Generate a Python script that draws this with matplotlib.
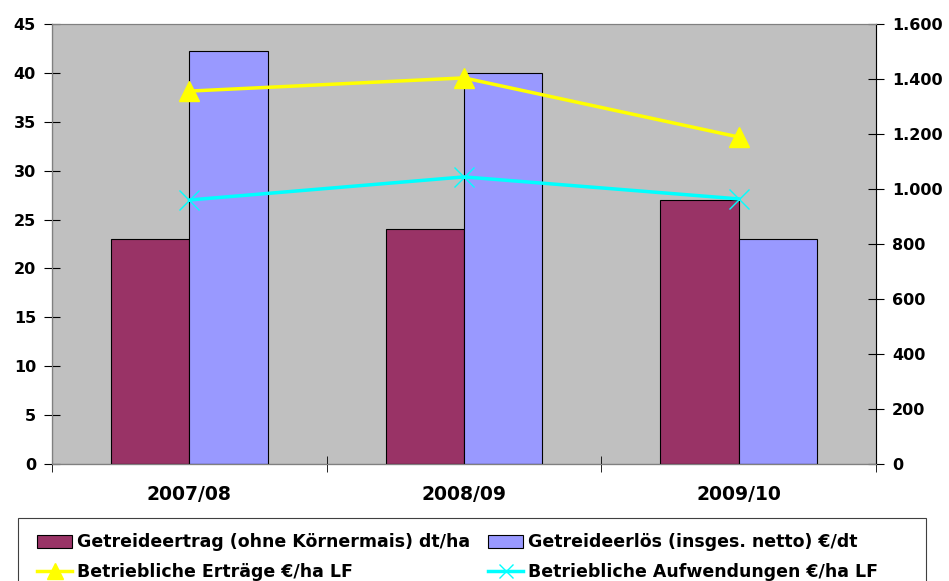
import matplotlib.pyplot as plt
from matplotlib.patches import Rectangle
import numpy as np

plt.rcParams['font.family'] = ['DejaVu Sans']
plt.rcParams['font.weight'] = 'bold'

jahre = ['2007/08', '2008/09', '2009/10']
ertrag_dt = [23, 24, 27]
erloes_dt = [42.2, 40, 23]
betr_ertraege = [1356, 1404, 1189]
betr_aufwand = [960, 1044, 964]

W, H = 949, 581
fig = plt.figure(figsize=(W/100, H/100), dpi=100)
ax = fig.add_axes([52/W, 1 - 464/H, 824/W, 440/H])
ax.set_facecolor('#C0C0C0')

x = np.arange(len(jahre))
b = 0.285
ax.bar(x - b/2, ertrag_dt, b, color='#993366', edgecolor='black', linewidth=0.8,
       label='Getreideertrag (ohne Körnermais) dt/ha')
ax.bar(x + b/2, erloes_dt, b, color='#9999FF', edgecolor='black', linewidth=0.8,
       label='Getreideerlös (insges. netto) €/dt')
ax.set_xlim(-0.5, 2.5)
ax.set_ylim(0, 45)
ax.set_yticks(range(0, 46, 5))
ax.set_xticks(x)
ax.set_xticklabels(jahre)
ax.set_xticks([-0.5, 0.5, 1.5, 2.5], minor=True)
ax.tick_params(axis='x', which='major', length=0, pad=15, labelsize=13.5)
ax.tick_params(axis='x', which='minor', length=11, direction='inout')
ax.tick_params(axis='y', length=11, direction='inout', labelsize=11.5, pad=6)

ax2 = ax.twinx()
ax2.plot(x, betr_ertraege, color='#FFFF00', linewidth=2.5, marker='^', markersize=15,
         label='Betriebliche Erträge €/ha LF')
ax2.plot(x, betr_aufwand, color='#00FFFF', linewidth=2.5, marker='x', markersize=14,
         markeredgewidth=1, label='Betriebliche Aufwendungen €/ha LF')
ax2.set_ylim(0, 1600)
ax2.set_yticks(range(0, 1601, 200))
ax2.set_yticklabels(['0', '200', '400', '600', '800', '1.000', '1.200', '1.400', '1.600'])
ax2.tick_params(axis='y', length=11, direction='inout', labelsize=11.5, pad=6)

for a in (ax, ax2):
    for s in a.spines.values():
        s.set_color('#808080')
        s.set_linewidth(0.8)
ax.spines['left'].set_color('black')
ax.spines['bottom'].set_color('black')
ax2.spines['right'].set_color('black')

# Legendenrahmen wie im Original (feste Breite)
fig.patches.append(Rectangle((18/W, 1 - 600/H), 908/W, 82/H, transform=fig.transFigure,
                             facecolor='white', edgecolor='#404040', linewidth=0.8,
                             zorder=0))

h1, l1 = ax.get_legend_handles_labels()
h2, l2 = ax2.get_legend_handles_labels()
# zeilenweise: Balken oben, Linien unten
handles = [h1[0], h2[0], h1[1], h2[1]]
labels = [l1[0], l2[0], l1[1], l2[1]]
leg = fig.legend(handles, labels, ncol=2, loc='upper left',
                 bbox_to_anchor=(32/W, 1 - 528/H), frameon=False,
                 fontsize=12.5, handlelength=2.0, handletextpad=0.3,
                 columnspacing=1.05, borderpad=0.3, borderaxespad=0,
                 labelspacing=0.7, handleheight=0.8, markerscale=0.75)

fig.savefig('out.png', dpi=100)
